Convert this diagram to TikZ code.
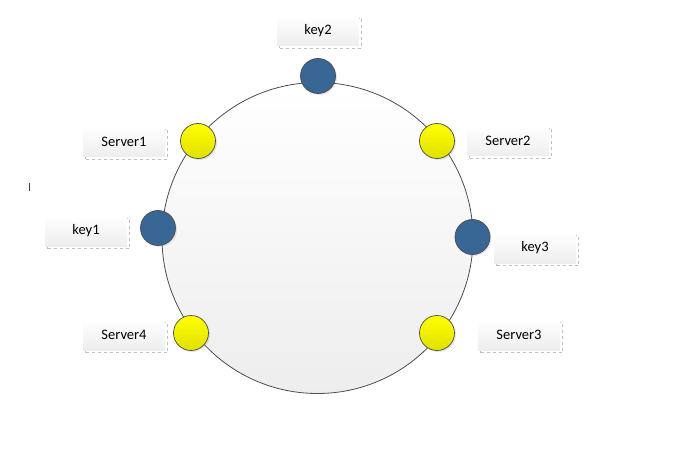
\documentclass[tikz,border=0pt]{standalone}
\usepackage{fontspec}
\setmainfont{Carlito}
\usetikzlibrary{shadows}

\definecolor{keyblue}{RGB}{56,103,150}
\definecolor{srvyellow}{RGB}{255,255,0}

\begin{document}
\begin{tikzpicture}[x=1pt,y=-1pt]

\tikzset{ring/.style = {circle,draw=black!70,line width=0.8pt,top color=white,bottom color=black!7,minimum size=311pt,inner sep=0pt}}
\tikzset{dot/.style = {circle,draw=black!70,line width=0.7pt,minimum size=35pt,inner sep=0pt,drop shadow={opacity=0.2,shadow xshift=1.5pt,shadow yshift=-1.5pt}}}
\tikzset{server/.style = {dot,top color=srvyellow,bottom color=srvyellow!88!black}}
\tikzset{key/.style = {dot,fill=keyblue}}
\tikzset{tag/.style = {rectangle,minimum width=82pt,minimum height=30pt,top color=white,bottom color=black!7,font=\fontsize{14.5}{17}\selectfont,general shadow={fill=none,draw=black!25,dashed,shadow xshift=2.5pt,shadow yshift=-2.5pt}}}

\useasboundingbox (0,0) rectangle (690,473);
%ring
\node[ring] (ring) at (317.5,238) {};
%servers and keys
\node[key] (k2) at (318,76) {};
\node[server] (s1) at (198,141) {};
\node[server] (s2) at (437,141) {};
\node[key] (k1) at (158,228) {};
\node[key] (k3) at (472.5,237) {};
\node[server] (s4) at (191,333) {};
\node[server] (s3) at (437,333) {};
%labels
\node[tag] (l-k2) at (318,31) {key2};
\node[tag] (l-s1) at (124,142) {Server1};
\node[tag] (l-s2) at (508,141) {Server2};
\node[tag] (l-k1) at (86,231) {key1};
\node[tag] (l-k3) at (535,248) {key3};
\node[tag] (l-s4) at (124,335) {Server4};
\node[tag] (l-s3) at (519,335) {Server3};
%cursor mark
\draw[black!75,line width=1pt] (29,183) -- (29,191);

\end{tikzpicture}
\end{document}
